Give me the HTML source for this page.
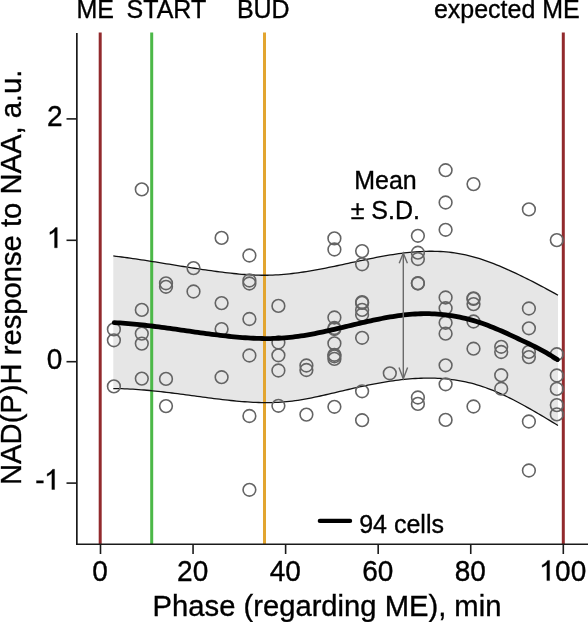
<!DOCTYPE html>
<html><head><meta charset="utf-8"><style>
html,body{margin:0;padding:0;background:#fff;}
svg{display:block;will-change:transform;font-family:"Liberation Sans",sans-serif;}
</style></head><body>
<svg width="588" height="622" viewBox="0 0 588 622">
<rect width="588" height="622" fill="#fff"/>
<path d="M113.30,255.97 L116.10,256.30 L118.89,256.65 L121.69,257.01 L124.49,257.38 L127.28,257.76 L130.08,258.15 L132.88,258.54 L135.67,258.95 L138.47,259.36 L141.27,259.78 L144.07,260.21 L146.86,260.64 L149.66,261.08 L152.46,261.52 L155.25,261.96 L158.05,262.41 L160.85,262.86 L163.64,263.32 L166.44,263.77 L169.24,264.23 L172.03,264.68 L174.83,265.14 L177.63,265.59 L180.42,266.04 L183.22,266.49 L186.02,266.94 L188.82,267.38 L191.61,267.82 L194.41,268.26 L197.21,268.69 L200.00,269.11 L202.80,269.53 L205.60,269.94 L208.39,270.34 L211.19,270.73 L213.99,271.11 L216.78,271.49 L219.58,271.85 L222.38,272.20 L225.17,272.55 L227.97,272.88 L230.77,273.19 L233.56,273.49 L236.36,273.77 L239.16,274.04 L241.96,274.28 L244.75,274.50 L247.55,274.70 L250.35,274.87 L253.14,275.01 L255.94,275.12 L258.74,275.20 L261.53,275.25 L264.33,275.26 L267.13,275.23 L269.92,275.17 L272.72,275.07 L275.52,274.94 L278.31,274.78 L281.11,274.58 L283.91,274.35 L286.71,274.09 L289.50,273.81 L292.30,273.50 L295.10,273.16 L297.89,272.79 L300.69,272.41 L303.49,272.00 L306.28,271.56 L309.08,271.11 L311.88,270.64 L314.67,270.15 L317.47,269.65 L320.27,269.13 L323.06,268.59 L325.86,268.04 L328.66,267.48 L331.45,266.91 L334.25,266.33 L337.05,265.74 L339.85,265.15 L342.64,264.55 L345.44,263.94 L348.24,263.34 L351.03,262.73 L353.83,262.12 L356.63,261.52 L359.42,260.92 L362.22,260.33 L365.02,259.74 L367.81,259.16 L370.61,258.59 L373.41,258.03 L376.20,257.48 L379.00,256.94 L381.80,256.42 L384.59,255.92 L387.39,255.44 L390.19,254.97 L392.99,254.52 L395.78,254.10 L398.58,253.70 L401.38,253.33 L404.17,252.98 L406.97,252.66 L409.77,252.37 L412.56,252.11 L415.36,251.88 L418.16,251.68 L420.95,251.53 L423.75,251.40 L426.55,251.32 L429.34,251.27 L432.14,251.27 L434.94,251.30 L437.74,251.38 L440.53,251.51 L443.33,251.68 L446.13,251.90 L448.92,252.17 L451.72,252.49 L454.52,252.86 L457.31,253.29 L460.11,253.77 L462.91,254.30 L465.70,254.90 L468.50,255.55 L471.30,256.26 L474.09,257.03 L476.89,257.84 L479.69,258.71 L482.48,259.62 L485.28,260.58 L488.08,261.58 L490.88,262.63 L493.67,263.70 L496.47,264.82 L499.27,265.97 L502.06,267.14 L504.86,268.35 L507.66,269.58 L510.45,270.84 L513.25,272.12 L516.05,273.42 L518.84,274.75 L521.64,276.09 L524.44,277.46 L527.23,278.85 L530.03,280.26 L532.83,281.68 L535.63,283.12 L538.42,284.58 L541.22,286.06 L544.02,287.55 L546.81,289.06 L549.61,290.58 L552.41,292.11 L555.20,293.65 L558.00,295.21 L558.00,425.47 L555.20,423.78 L552.41,422.09 L549.61,420.41 L546.81,418.73 L544.02,417.06 L541.22,415.40 L538.42,413.75 L535.63,412.11 L532.83,410.49 L530.03,408.89 L527.23,407.31 L524.44,405.76 L521.64,404.22 L518.84,402.72 L516.05,401.24 L513.25,399.79 L510.45,398.38 L507.66,397.00 L504.86,395.66 L502.06,394.36 L499.27,393.10 L496.47,391.88 L493.67,390.71 L490.88,389.59 L488.08,388.52 L485.28,387.50 L482.48,386.53 L479.69,385.62 L476.89,384.77 L474.09,383.97 L471.30,383.23 L468.50,382.55 L465.70,381.92 L462.91,381.34 L460.11,380.81 L457.31,380.33 L454.52,379.91 L451.72,379.53 L448.92,379.19 L446.13,378.91 L443.33,378.67 L440.53,378.47 L437.74,378.31 L434.94,378.20 L432.14,378.13 L429.34,378.10 L426.55,378.10 L423.75,378.15 L420.95,378.23 L418.16,378.34 L415.36,378.49 L412.56,378.67 L409.77,378.89 L406.97,379.13 L404.17,379.41 L401.38,379.71 L398.58,380.04 L395.78,380.40 L392.99,380.78 L390.19,381.19 L387.39,381.62 L384.59,382.08 L381.80,382.55 L379.00,383.05 L376.20,383.56 L373.41,384.09 L370.61,384.64 L367.81,385.20 L365.02,385.78 L362.22,386.37 L359.42,386.98 L356.63,387.59 L353.83,388.22 L351.03,388.86 L348.24,389.50 L345.44,390.15 L342.64,390.81 L339.85,391.47 L337.05,392.13 L334.25,392.79 L331.45,393.45 L328.66,394.11 L325.86,394.75 L323.06,395.39 L320.27,396.01 L317.47,396.62 L314.67,397.21 L311.88,397.78 L309.08,398.33 L306.28,398.86 L303.49,399.36 L300.69,399.84 L297.89,400.28 L295.10,400.69 L292.30,401.06 L289.50,401.40 L286.71,401.70 L283.91,401.95 L281.11,402.16 L278.31,402.33 L275.52,402.46 L272.72,402.56 L269.92,402.62 L267.13,402.64 L264.33,402.63 L261.53,402.59 L258.74,402.51 L255.94,402.41 L253.14,402.29 L250.35,402.13 L247.55,401.96 L244.75,401.76 L241.96,401.54 L239.16,401.30 L236.36,401.04 L233.56,400.76 L230.77,400.48 L227.97,400.17 L225.17,399.86 L222.38,399.54 L219.58,399.21 L216.78,398.86 L213.99,398.52 L211.19,398.16 L208.39,397.80 L205.60,397.43 L202.80,397.06 L200.00,396.69 L197.21,396.32 L194.41,395.94 L191.61,395.57 L188.82,395.19 L186.02,394.82 L183.22,394.45 L180.42,394.08 L177.63,393.71 L174.83,393.35 L172.03,393.00 L169.24,392.66 L166.44,392.32 L163.64,391.99 L160.85,391.67 L158.05,391.36 L155.25,391.06 L152.46,390.78 L149.66,390.50 L146.86,390.25 L144.07,390.00 L141.27,389.78 L138.47,389.57 L135.67,389.37 L132.88,389.20 L130.08,389.05 L127.28,388.91 L124.49,388.80 L121.69,388.71 L118.89,388.64 L116.10,388.60 L113.30,388.58 Z" fill="#e6e6e6" stroke="none"/>
<g stroke-width="3" fill="none">
<line x1="100.2" y1="32.5" x2="100.2" y2="544" stroke="#922a2d"/>
<line x1="151.7" y1="32.5" x2="151.7" y2="544" stroke="#4cb848"/>
<line x1="264.5" y1="32.5" x2="264.5" y2="544" stroke="#e2a530"/>
<line x1="563.3" y1="32.5" x2="563.3" y2="544" stroke="#922a2d"/>
</g>
<g fill="none" stroke="#111" stroke-width="1.3">
<path d="M113.30,255.97 L116.10,256.30 L118.89,256.65 L121.69,257.01 L124.49,257.38 L127.28,257.76 L130.08,258.15 L132.88,258.54 L135.67,258.95 L138.47,259.36 L141.27,259.78 L144.07,260.21 L146.86,260.64 L149.66,261.08 L152.46,261.52 L155.25,261.96 L158.05,262.41 L160.85,262.86 L163.64,263.32 L166.44,263.77 L169.24,264.23 L172.03,264.68 L174.83,265.14 L177.63,265.59 L180.42,266.04 L183.22,266.49 L186.02,266.94 L188.82,267.38 L191.61,267.82 L194.41,268.26 L197.21,268.69 L200.00,269.11 L202.80,269.53 L205.60,269.94 L208.39,270.34 L211.19,270.73 L213.99,271.11 L216.78,271.49 L219.58,271.85 L222.38,272.20 L225.17,272.55 L227.97,272.88 L230.77,273.19 L233.56,273.49 L236.36,273.77 L239.16,274.04 L241.96,274.28 L244.75,274.50 L247.55,274.70 L250.35,274.87 L253.14,275.01 L255.94,275.12 L258.74,275.20 L261.53,275.25 L264.33,275.26 L267.13,275.23 L269.92,275.17 L272.72,275.07 L275.52,274.94 L278.31,274.78 L281.11,274.58 L283.91,274.35 L286.71,274.09 L289.50,273.81 L292.30,273.50 L295.10,273.16 L297.89,272.79 L300.69,272.41 L303.49,272.00 L306.28,271.56 L309.08,271.11 L311.88,270.64 L314.67,270.15 L317.47,269.65 L320.27,269.13 L323.06,268.59 L325.86,268.04 L328.66,267.48 L331.45,266.91 L334.25,266.33 L337.05,265.74 L339.85,265.15 L342.64,264.55 L345.44,263.94 L348.24,263.34 L351.03,262.73 L353.83,262.12 L356.63,261.52 L359.42,260.92 L362.22,260.33 L365.02,259.74 L367.81,259.16 L370.61,258.59 L373.41,258.03 L376.20,257.48 L379.00,256.94 L381.80,256.42 L384.59,255.92 L387.39,255.44 L390.19,254.97 L392.99,254.52 L395.78,254.10 L398.58,253.70 L401.38,253.33 L404.17,252.98 L406.97,252.66 L409.77,252.37 L412.56,252.11 L415.36,251.88 L418.16,251.68 L420.95,251.53 L423.75,251.40 L426.55,251.32 L429.34,251.27 L432.14,251.27 L434.94,251.30 L437.74,251.38 L440.53,251.51 L443.33,251.68 L446.13,251.90 L448.92,252.17 L451.72,252.49 L454.52,252.86 L457.31,253.29 L460.11,253.77 L462.91,254.30 L465.70,254.90 L468.50,255.55 L471.30,256.26 L474.09,257.03 L476.89,257.84 L479.69,258.71 L482.48,259.62 L485.28,260.58 L488.08,261.58 L490.88,262.63 L493.67,263.70 L496.47,264.82 L499.27,265.97 L502.06,267.14 L504.86,268.35 L507.66,269.58 L510.45,270.84 L513.25,272.12 L516.05,273.42 L518.84,274.75 L521.64,276.09 L524.44,277.46 L527.23,278.85 L530.03,280.26 L532.83,281.68 L535.63,283.12 L538.42,284.58 L541.22,286.06 L544.02,287.55 L546.81,289.06 L549.61,290.58 L552.41,292.11 L555.20,293.65 L558.00,295.21"/>
<path d="M113.30,388.58 L116.10,388.60 L118.89,388.64 L121.69,388.71 L124.49,388.80 L127.28,388.91 L130.08,389.05 L132.88,389.20 L135.67,389.37 L138.47,389.57 L141.27,389.78 L144.07,390.00 L146.86,390.25 L149.66,390.50 L152.46,390.78 L155.25,391.06 L158.05,391.36 L160.85,391.67 L163.64,391.99 L166.44,392.32 L169.24,392.66 L172.03,393.00 L174.83,393.35 L177.63,393.71 L180.42,394.08 L183.22,394.45 L186.02,394.82 L188.82,395.19 L191.61,395.57 L194.41,395.94 L197.21,396.32 L200.00,396.69 L202.80,397.06 L205.60,397.43 L208.39,397.80 L211.19,398.16 L213.99,398.52 L216.78,398.86 L219.58,399.21 L222.38,399.54 L225.17,399.86 L227.97,400.17 L230.77,400.48 L233.56,400.76 L236.36,401.04 L239.16,401.30 L241.96,401.54 L244.75,401.76 L247.55,401.96 L250.35,402.13 L253.14,402.29 L255.94,402.41 L258.74,402.51 L261.53,402.59 L264.33,402.63 L267.13,402.64 L269.92,402.62 L272.72,402.56 L275.52,402.46 L278.31,402.33 L281.11,402.16 L283.91,401.95 L286.71,401.70 L289.50,401.40 L292.30,401.06 L295.10,400.69 L297.89,400.28 L300.69,399.84 L303.49,399.36 L306.28,398.86 L309.08,398.33 L311.88,397.78 L314.67,397.21 L317.47,396.62 L320.27,396.01 L323.06,395.39 L325.86,394.75 L328.66,394.11 L331.45,393.45 L334.25,392.79 L337.05,392.13 L339.85,391.47 L342.64,390.81 L345.44,390.15 L348.24,389.50 L351.03,388.86 L353.83,388.22 L356.63,387.59 L359.42,386.98 L362.22,386.37 L365.02,385.78 L367.81,385.20 L370.61,384.64 L373.41,384.09 L376.20,383.56 L379.00,383.05 L381.80,382.55 L384.59,382.08 L387.39,381.62 L390.19,381.19 L392.99,380.78 L395.78,380.40 L398.58,380.04 L401.38,379.71 L404.17,379.41 L406.97,379.13 L409.77,378.89 L412.56,378.67 L415.36,378.49 L418.16,378.34 L420.95,378.23 L423.75,378.15 L426.55,378.10 L429.34,378.10 L432.14,378.13 L434.94,378.20 L437.74,378.31 L440.53,378.47 L443.33,378.67 L446.13,378.91 L448.92,379.19 L451.72,379.53 L454.52,379.91 L457.31,380.33 L460.11,380.81 L462.91,381.34 L465.70,381.92 L468.50,382.55 L471.30,383.23 L474.09,383.97 L476.89,384.77 L479.69,385.62 L482.48,386.53 L485.28,387.50 L488.08,388.52 L490.88,389.59 L493.67,390.71 L496.47,391.88 L499.27,393.10 L502.06,394.36 L504.86,395.66 L507.66,397.00 L510.45,398.38 L513.25,399.79 L516.05,401.24 L518.84,402.72 L521.64,404.22 L524.44,405.76 L527.23,407.31 L530.03,408.89 L532.83,410.49 L535.63,412.11 L538.42,413.75 L541.22,415.40 L544.02,417.06 L546.81,418.73 L549.61,420.41 L552.41,422.09 L555.20,423.78 L558.00,425.47"/>
</g>
<g fill="none" stroke="#646464" stroke-width="1.6"><circle cx="113.9" cy="329.4" r="6.35"/><circle cx="113.9" cy="340.3" r="6.35"/><circle cx="113.9" cy="386.4" r="6.35"/><circle cx="141.8" cy="189.4" r="6.35"/><circle cx="141.8" cy="309.9" r="6.35"/><circle cx="141.8" cy="333.6" r="6.35"/><circle cx="141.8" cy="343.6" r="6.35"/><circle cx="141.8" cy="378.6" r="6.35"/><circle cx="166.0" cy="283.3" r="6.35"/><circle cx="166.0" cy="286.8" r="6.35"/><circle cx="166.0" cy="378.9" r="6.35"/><circle cx="166.0" cy="406.1" r="6.35"/><circle cx="193.5" cy="268.1" r="6.35"/><circle cx="193.5" cy="291.5" r="6.35"/><circle cx="221.6" cy="237.9" r="6.35"/><circle cx="221.6" cy="303.1" r="6.35"/><circle cx="221.6" cy="329.1" r="6.35"/><circle cx="221.6" cy="377.2" r="6.35"/><circle cx="249.4" cy="255.5" r="6.35"/><circle cx="249.4" cy="280.5" r="6.35"/><circle cx="249.4" cy="283.5" r="6.35"/><circle cx="249.4" cy="319.0" r="6.35"/><circle cx="249.4" cy="355.5" r="6.35"/><circle cx="249.4" cy="416.0" r="6.35"/><circle cx="249.4" cy="489.8" r="6.35"/><circle cx="278.4" cy="305.9" r="6.35"/><circle cx="278.4" cy="342.5" r="6.35"/><circle cx="278.4" cy="355.3" r="6.35"/><circle cx="278.4" cy="370.5" r="6.35"/><circle cx="278.4" cy="405.8" r="6.35"/><circle cx="306.4" cy="365.5" r="6.35"/><circle cx="306.4" cy="370.0" r="6.35"/><circle cx="306.4" cy="414.6" r="6.35"/><circle cx="334.4" cy="238.4" r="6.35"/><circle cx="334.4" cy="249.5" r="6.35"/><circle cx="334.4" cy="317.5" r="6.35"/><circle cx="334.4" cy="328.0" r="6.35"/><circle cx="334.4" cy="329.0" r="6.35"/><circle cx="334.4" cy="343.4" r="6.35"/><circle cx="334.4" cy="354.8" r="6.35"/><circle cx="334.4" cy="356.3" r="6.35"/><circle cx="334.4" cy="358.9" r="6.35"/><circle cx="334.4" cy="406.8" r="6.35"/><circle cx="362.1" cy="251.1" r="6.35"/><circle cx="362.1" cy="264.3" r="6.35"/><circle cx="362.1" cy="302.1" r="6.35"/><circle cx="362.1" cy="302.9" r="6.35"/><circle cx="362.1" cy="309.9" r="6.35"/><circle cx="362.1" cy="314.7" r="6.35"/><circle cx="362.1" cy="337.8" r="6.35"/><circle cx="362.1" cy="391.3" r="6.35"/><circle cx="362.1" cy="420.2" r="6.35"/><circle cx="389.8" cy="373.3" r="6.35"/><circle cx="417.9" cy="235.8" r="6.35"/><circle cx="417.9" cy="252.7" r="6.35"/><circle cx="417.9" cy="259.0" r="6.35"/><circle cx="417.9" cy="283.1" r="6.35"/><circle cx="417.9" cy="283.5" r="6.35"/><circle cx="417.9" cy="397.5" r="6.35"/><circle cx="417.9" cy="403.9" r="6.35"/><circle cx="445.6" cy="170.2" r="6.35"/><circle cx="445.6" cy="202.5" r="6.35"/><circle cx="445.6" cy="229.8" r="6.35"/><circle cx="445.6" cy="297.5" r="6.35"/><circle cx="445.6" cy="308.2" r="6.35"/><circle cx="445.6" cy="322.8" r="6.35"/><circle cx="445.6" cy="333.7" r="6.35"/><circle cx="445.6" cy="365.3" r="6.35"/><circle cx="445.6" cy="384.3" r="6.35"/><circle cx="445.6" cy="419.9" r="6.35"/><circle cx="473.5" cy="184.1" r="6.35"/><circle cx="473.5" cy="298.3" r="6.35"/><circle cx="473.5" cy="298.9" r="6.35"/><circle cx="473.5" cy="304.1" r="6.35"/><circle cx="473.5" cy="321.5" r="6.35"/><circle cx="473.5" cy="348.7" r="6.35"/><circle cx="473.5" cy="406.5" r="6.35"/><circle cx="501.2" cy="346.8" r="6.35"/><circle cx="501.2" cy="352.0" r="6.35"/><circle cx="501.2" cy="375.2" r="6.35"/><circle cx="501.2" cy="388.7" r="6.35"/><circle cx="528.9" cy="209.4" r="6.35"/><circle cx="528.9" cy="308.5" r="6.35"/><circle cx="528.9" cy="328.3" r="6.35"/><circle cx="528.9" cy="351.9" r="6.35"/><circle cx="528.9" cy="357.1" r="6.35"/><circle cx="528.9" cy="421.5" r="6.35"/><circle cx="528.9" cy="470.5" r="6.35"/><circle cx="556.8" cy="240.1" r="6.35"/><circle cx="556.8" cy="354.2" r="6.35"/><circle cx="556.8" cy="375.5" r="6.35"/><circle cx="556.8" cy="388.9" r="6.35"/><circle cx="556.8" cy="405.1" r="6.35"/><circle cx="556.8" cy="414.4" r="6.35"/></g>
<path d="M114.30,322.63 L117.09,322.78 L119.87,322.96 L122.66,323.15 L125.44,323.36 L128.23,323.58 L131.02,323.83 L133.80,324.08 L136.59,324.36 L139.38,324.64 L142.16,324.94 L144.95,325.25 L147.73,325.57 L150.52,325.91 L153.31,326.25 L156.09,326.60 L158.88,326.96 L161.66,327.33 L164.45,327.70 L167.24,328.08 L170.02,328.46 L172.81,328.85 L175.60,329.24 L178.38,329.64 L181.17,330.03 L183.95,330.43 L186.74,330.83 L189.53,331.22 L192.31,331.62 L195.10,332.01 L197.88,332.40 L200.67,332.78 L203.46,333.16 L206.24,333.54 L209.03,333.91 L211.82,334.27 L214.60,334.63 L217.39,334.97 L220.17,335.31 L222.96,335.63 L225.75,335.95 L228.53,336.25 L231.32,336.54 L234.11,336.82 L236.89,337.08 L239.68,337.32 L242.46,337.55 L245.25,337.75 L248.04,337.94 L250.82,338.10 L253.61,338.24 L256.39,338.36 L259.18,338.45 L261.97,338.51 L264.75,338.55 L267.54,338.55 L270.33,338.53 L273.11,338.47 L275.90,338.38 L278.68,338.26 L281.47,338.10 L284.26,337.90 L287.04,337.67 L289.83,337.39 L292.61,337.08 L295.40,336.74 L298.19,336.36 L300.97,335.96 L303.76,335.52 L306.55,335.06 L309.33,334.57 L312.12,334.06 L314.90,333.52 L317.69,332.97 L320.48,332.39 L323.26,331.80 L326.05,331.19 L328.83,330.57 L331.62,329.94 L334.41,329.30 L337.19,328.65 L339.98,327.99 L342.77,327.33 L345.55,326.66 L348.34,326.00 L351.12,325.33 L353.91,324.67 L356.70,324.01 L359.48,323.35 L362.27,322.70 L365.05,322.06 L367.84,321.43 L370.63,320.82 L373.41,320.21 L376.20,319.63 L378.99,319.06 L381.77,318.50 L384.56,317.97 L387.34,317.47 L390.13,316.98 L392.92,316.52 L395.70,316.09 L398.49,315.69 L401.27,315.32 L404.06,314.99 L406.85,314.68 L409.63,314.42 L412.42,314.19 L415.21,314.00 L417.99,313.85 L420.78,313.74 L423.56,313.68 L426.35,313.67 L429.14,313.70 L431.92,313.78 L434.71,313.91 L437.49,314.09 L440.28,314.31 L443.07,314.58 L445.85,314.90 L448.64,315.26 L451.43,315.67 L454.21,316.13 L457.00,316.64 L459.78,317.19 L462.57,317.79 L465.36,318.44 L468.14,319.13 L470.93,319.88 L473.72,320.67 L476.50,321.50 L479.29,322.39 L482.07,323.32 L484.86,324.30 L487.65,325.32 L490.43,326.39 L493.22,327.51 L496.00,328.66 L498.79,329.84 L501.58,331.05 L504.36,332.29 L507.15,333.55 L509.94,334.83 L512.72,336.13 L515.51,337.43 L518.29,338.74 L521.08,340.05 L523.87,341.37 L526.65,342.69 L529.44,344.02 L532.22,345.38 L535.01,346.76 L537.80,348.18 L540.58,349.63 L543.37,351.14 L546.16,352.69 L548.94,354.31 L551.73,355.99 L554.51,357.74 L557.30,359.58" fill="none" stroke="#000" stroke-width="4.8" stroke-linecap="round"/>
<g stroke="#6a6a6a" stroke-width="1.4" fill="none">
<line x1="403.3" y1="253.5" x2="403.3" y2="378.5"/>
<polyline points="399.2,263.3 403.3,253.2 407.4,263.3"/>
<polyline points="399,367.5 403.3,378.8 407.6,367.5"/>
</g>
<g stroke="#1a1a1a" stroke-width="1.6" fill="none">
<line x1="76.85" y1="33" x2="76.85" y2="545" stroke-width="1.7" stroke="#1a1a1a"/>
<line x1="76" y1="544.3" x2="588" y2="544.3" stroke-width="1.6" stroke="#1a1a1a"/>
<line x1="66.5" y1="118.90" x2="77" y2="118.90"/><line x1="66.5" y1="240.30" x2="77" y2="240.30"/><line x1="66.5" y1="361.70" x2="77" y2="361.70"/><line x1="66.5" y1="483.10" x2="77" y2="483.10"/><line x1="100.50" y1="544" x2="100.50" y2="554"/><line x1="193.06" y1="544" x2="193.06" y2="554"/><line x1="285.62" y1="544" x2="285.62" y2="554"/><line x1="378.18" y1="544" x2="378.18" y2="554"/><line x1="470.74" y1="544" x2="470.74" y2="554"/><line x1="563.30" y1="544" x2="563.30" y2="554"/>
</g>
<line x1="319.8" y1="520.9" x2="350.1" y2="520.9" stroke="#000" stroke-width="4.2" stroke-linecap="round"/>
<g fill="#000" stroke="#000" stroke-width="0.35" font-size="25">
<text transform="translate(76.5,17.9) scale(1,1.04)">ME</text>
<text transform="translate(126.6,17.9) scale(1,1.04)">START</text>
<text transform="translate(236.9,17.9) scale(1,1.04)">BUD</text>
<text transform="translate(433.9,17.9) scale(1,1.04)">expected ME</text>
<text transform="translate(385.5,188.8) scale(1,1.04)" text-anchor="middle">Mean</text>
<text transform="translate(385.3,218.9) scale(1,1.04)" text-anchor="middle">± S.D.</text>
<text transform="translate(359.2,532.6) scale(1,1.04)">94 cells</text>
</g>
<g fill="#000" stroke="#000" stroke-width="0.35" font-size="28">
<text transform="translate(46.93,126.40) scale(1,1.06)">2</text><text transform="translate(47.23,247.80) scale(1,1.06)"> </text><text transform="translate(46.83,369.20) scale(1,1.06)">0</text><text transform="translate(35.21,489.50) scale(1,1.06)">- </text>
<text transform="translate(92.32,580.60) scale(1,1.06)">0</text><text transform="translate(177.09,580.60) scale(1,1.06)">20</text><text transform="translate(269.65,580.60) scale(1,1.06)">40</text><text transform="translate(362.21,580.60) scale(1,1.06)">60</text><text transform="translate(454.77,580.60) scale(1,1.06)">80</text><text transform="translate(539.55,580.60) scale(1,1.06)"> 00</text>
</g>
<path d=" M57.26,247.80 L54.57,247.80 L54.57,231.42 C53.25,232.68 51.57,233.80 49.89,234.50 L49.89,232.12 C52.27,231.14 54.23,229.46 55.35,227.58 L57.26,227.58 Z M54.56,489.50 L51.87,489.50 L51.87,473.12 C50.55,474.38 48.87,475.50 47.19,476.20 L47.19,473.82 C49.57,472.84 51.53,471.16 52.65,469.28 L54.56,469.28 Z M549.57,580.60 L546.88,580.60 L546.88,564.22 C545.57,565.48 543.89,566.60 542.21,567.30 L542.21,564.92 C544.59,563.94 546.55,562.26 547.67,560.38 L549.57,560.38 Z" fill="#000" stroke="#000" stroke-width="0.35"/>
<g fill="#000" stroke="#000" stroke-width="0.35" font-size="29.2">
<text transform="translate(152.6,616.0) scale(1,1.02)">Phase (regarding ME), min</text>
<text transform="translate(21,485) rotate(-90) scale(1,1.02)">NAD(P)H response to NAA, a.u.</text>
</g>
</svg>
</body></html>
